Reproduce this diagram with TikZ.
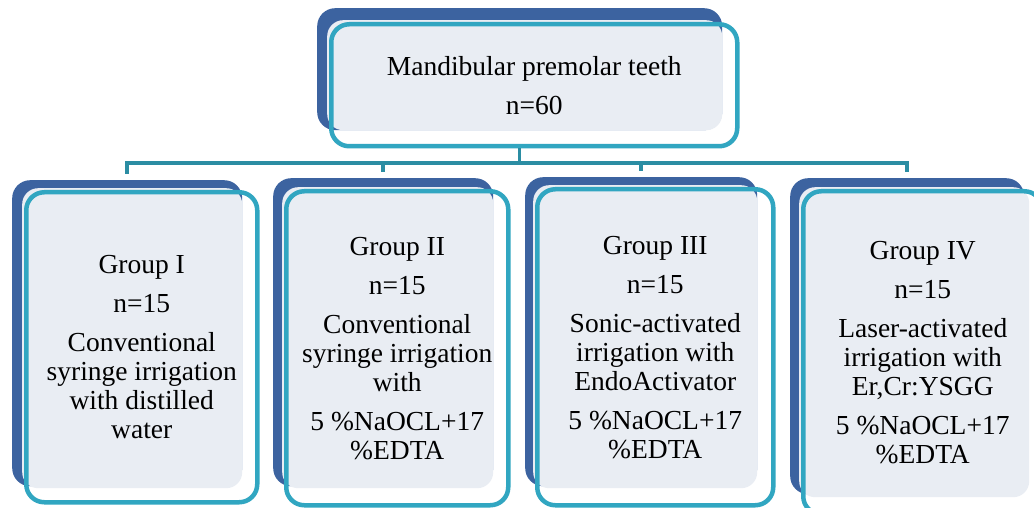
\documentclass[tikz,border=0pt]{standalone}
\usepackage{fontspec}
\setmainfont{Liberation Serif}
\definecolor{backblue}{HTML}{3C63A0}
\definecolor{rimteal}{HTML}{31A6C1}
\definecolor{facegray}{HTML}{E9EDF3}
\definecolor{linkteal}{HTML}{2B8DA3}
\tikzset{
  back/.style={fill=backblue, draw=none, rounded corners=18pt, inner sep=0pt, anchor=north west},
  face/.style={fill=facegray, draw=none, rounded corners=16pt, inner sep=0pt, anchor=north west},
  rim/.style={draw=rimteal, line width=4.5pt, rounded corners=18pt, inner sep=0pt, anchor=north west,
    align=center, font=\fontsize{27.5}{29}\selectfont},
  link/.style={draw=linkteal, line width=3.5pt},
}
\begin{document}
\begin{tikzpicture}[x=1pt,y=-1pt]
\useasboundingbox (0,0) rectangle (1034,508);
\clip (0,0) rectangle (1034,508);
\fill[white] (0,0) rectangle (1034,508);

% top box: dark backing, light face, teal rim with the label
\node[back, minimum width=405pt, minimum height=122pt] (topB) at (317,8) {};
\node[face, minimum width=395pt, minimum height=110pt] (topF) at (327,20) {};
\node[rim, minimum width=406pt, minimum height=122pt] (top) at (329,22)
  {Mandibular premolar teeth\\[10pt] n=60};

% group I
\node[back, minimum width=230pt, minimum height=306pt] (g1B) at (12,180) {};
\node[face, minimum width=220pt, minimum height=300pt] (g1F) at (22,188) {};
\node[rim, minimum width=231pt, minimum height=310pt] (g1) at (24,190)
  {Group I\\[10pt] n=15\\[10pt] Conventional\\ syringe irrigation\\ with distilled\\ water};

% group II
\node[back, minimum width=220pt, minimum height=308pt] (g2B) at (273,178) {};
\node[face, minimum width=211pt, minimum height=301pt] (g2F) at (282,187) {};
\node[rim, minimum width=222pt, minimum height=314pt] (g2) at (284,189)
  {Group II\\[10pt] n=15\\[10pt] Conventional\\ syringe irrigation\\ with\\[10pt] 5 \%NaOCL+17\\ \%EDTA};

% group III
\node[back, minimum width=232pt, minimum height=309pt] (g3B) at (525,177) {};
\node[face, minimum width=224pt, minimum height=303pt] (g3F) at (533,185) {};
\node[rim, minimum width=236pt, minimum height=316pt] (g3) at (535,187)
  {Group III\\[10pt] n=15\\[10pt] Sonic-activated\\ irrigation with\\ EndoActivator\\[10pt] 5 \%NaOCL+17\\ \%EDTA};

% group IV
\node[back, minimum width=234pt, minimum height=316pt] (g4B) at (790,178) {};
\node[face, minimum width=230pt, minimum height=310pt] (g4F) at (799,187) {};
\node[rim, minimum width=239pt, minimum height=323pt] (g4) at (801,189)
  {Group IV\\[10pt] n=15\\[10pt] Laser-activated\\ irrigation with\\ Er,Cr:YSGG\\[10pt] 5 \%NaOCL+17\\ \%EDTA};

% connectors: drop from the top box to a bus, then down to each group
\coordinate (bus) at (0,163);
\draw[link] (topB.south |- top.south) -- (topB.south |- bus);
\draw[link, shorten <=6pt, shorten >=6pt] (g1B.north) -- (g1B.north |- bus) -- (g4B.north |- bus) -- (g4B.north);
\draw[link, shorten >=6pt] (g2B.north |- bus) -- (g2B.north);
\draw[link, shorten >=6pt] (g3B.north |- bus) -- (g3B.north);
\end{tikzpicture}
\end{document}
